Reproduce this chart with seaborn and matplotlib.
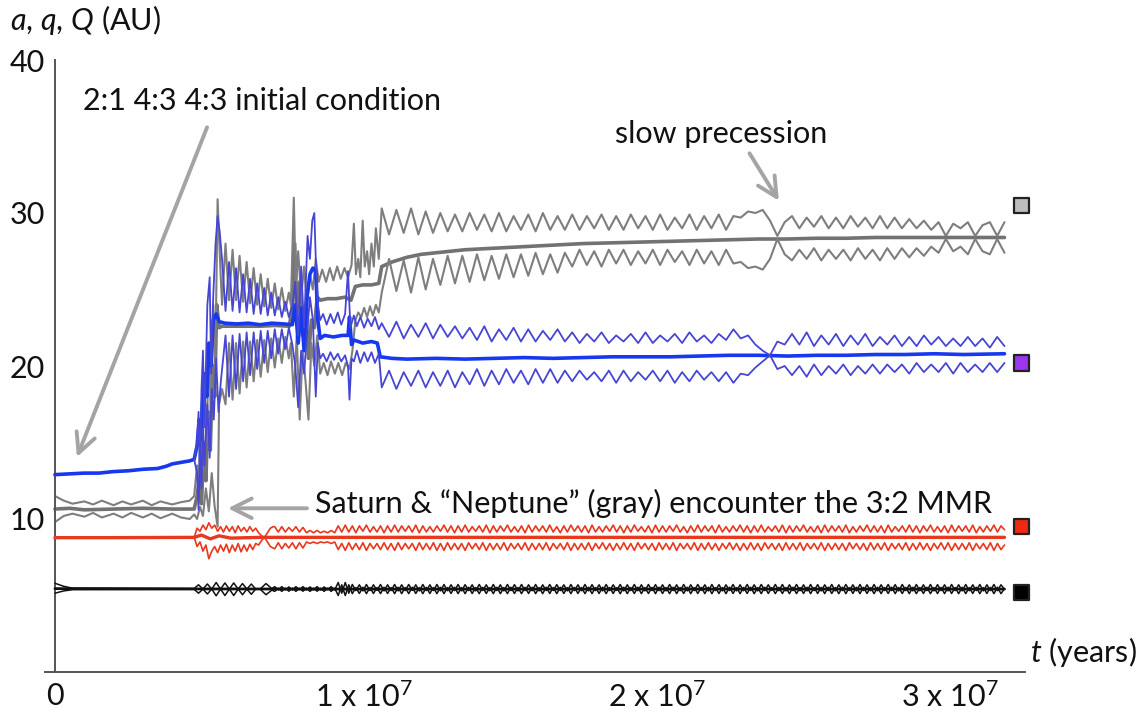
import numpy as np
import matplotlib
matplotlib.use("Agg")
import matplotlib.pyplot as plt
from matplotlib.ticker import MultipleLocator, FuncFormatter
from matplotlib.transforms import ScaledTranslation
import seaborn as sns

# ---------------- data: t in Myr, a/q/Q in AU ----------------
# Jupiter (black)
jup_a = [(0, 5.45), (4.75, 5.43), (10, 5.42), (20, 5.42), (32.4, 5.42)]
jup_Q_early = [(0, 5.8), (0.3, 5.6), (0.6, 5.48), (4.75, 5.46), (4.9, 5.7), (5.05, 5.42), (5.2, 5.75),
               (5.35, 5.42), (5.5, 5.85), (5.65, 5.42), (5.8, 5.82), (5.95, 5.42), (6.1, 5.82), (6.25, 5.42),
               (6.4, 5.78), (6.55, 5.42), (6.7, 5.75), (6.85, 5.42), (7.0, 5.42), (7.2, 5.78), (7.4, 5.45)]
jup_q_early = [(0, 5.15), (0.3, 5.3), (0.6, 5.38), (4.75, 5.4), (4.9, 5.15), (5.05, 5.42), (5.2, 5.1),
               (5.35, 5.42), (5.5, 4.98), (5.65, 5.42), (5.8, 5.0), (5.95, 5.42), (6.1, 5.0), (6.25, 5.42),
               (6.4, 5.05), (6.55, 5.42), (6.7, 5.08), (6.85, 5.42), (7.0, 5.42), (7.2, 5.05), (7.4, 5.35)]
# evenly sampled 7.5 .. 32.4 Myr
jup_Q_late = [
    5.58, 5.36, 5.58, 5.36, 5.56, 5.36, 5.58, 5.38, 5.58, 5.36, 5.56, 5.36, 5.58, 5.36, 5.56, 5.38,
    5.58, 5.36, 5.85, 5.15, 5.85, 5.15, 5.72, 5.32, 5.7, 5.3, 5.72, 5.32, 5.7, 5.33, 5.72, 5.3,
    5.7, 5.32, 5.72, 5.3, 5.7, 5.32, 5.72, 5.33, 5.7, 5.3, 5.72, 5.32, 5.7, 5.32, 5.72, 5.3,
    5.72, 5.31, 5.7, 5.32, 5.72, 5.3, 5.71, 5.32, 5.7, 5.3, 5.72, 5.33, 5.7, 5.31, 5.72, 5.32,
    5.7, 5.3, 5.72, 5.32, 5.71, 5.3, 5.72, 5.32, 5.7, 5.31, 5.72, 5.3, 5.7, 5.32, 5.72, 5.33,
    5.71, 5.32, 5.7, 5.3, 5.72, 5.32, 5.7, 5.31, 5.72, 5.3, 5.71, 5.32, 5.7, 5.3, 5.72, 5.32,
    5.7, 5.33, 5.72, 5.3, 5.7, 5.32, 5.72, 5.31, 5.7, 5.3, 5.72, 5.32, 5.71, 5.32, 5.7, 5.3,
    5.72, 5.32, 5.7, 5.31, 5.72, 5.3, 5.7, 5.32, 5.72, 5.33, 5.7, 5.3, 5.72, 5.32, 5.71, 5.3,
    5.7, 5.32, 5.72, 5.3, 5.7, 5.31, 5.72, 5.32, 5.7, 5.3, 5.72, 5.32, 5.7, 5.33, 5.72, 5.31,
    5.72, 5.3, 5.7, 5.32, 5.72, 5.31, 5.7, 5.3, 5.72, 5.32, 5.71, 5.3, 5.7, 5.32, 5.72, 5.3,
    5.7, 5.32, 5.72, 5.33, 5.7, 5.3, 5.72, 5.32, 5.7, 5.31, 5.72, 5.3, 5.7, 5.32, 5.72, 5.32,
    5.71, 5.3, 5.72, 5.32, 5.7, 5.3, 5.72, 5.31, 5.7, 5.32, 5.72, 5.3, 5.71, 5.32, 5.7, 5.3,
    5.72, 5.32, 5.7, 5.3, 5.72, 5.31, 5.7, 5.32, 5.72, 5.3, 5.7, 5.32, 5.72, 5.31, 5.7, 5.4]
jup_q_late = [
    5.27, 5.48, 5.27, 5.48, 5.28, 5.48, 5.27, 5.47, 5.28, 5.48, 5.27, 5.48, 5.28, 5.47, 5.27, 5.48,
    5.27, 5.48, 5.0, 5.7, 5.0, 5.7, 5.12, 5.52, 5.13, 5.54, 5.12, 5.52, 5.13, 5.52, 5.12, 5.54,
    5.13, 5.52, 5.12, 5.54, 5.12, 5.52, 5.12, 5.54, 5.13, 5.52, 5.12, 5.53, 5.13, 5.52, 5.12, 5.54,
    5.12, 5.52, 5.13, 5.54, 5.12, 5.52, 5.12, 5.54, 5.13, 5.52, 5.12, 5.53, 5.13, 5.52, 5.12, 5.54,
    5.12, 5.52, 5.12, 5.54, 5.13, 5.52, 5.12, 5.53, 5.13, 5.54, 5.12, 5.52, 5.12, 5.54, 5.13, 5.52,
    5.12, 5.54, 5.13, 5.52, 5.12, 5.53, 5.13, 5.52, 5.12, 5.54, 5.12, 5.52, 5.13, 5.54, 5.12, 5.52,
    5.13, 5.52, 5.12, 5.54, 5.12, 5.52, 5.13, 5.54, 5.12, 5.52, 5.13, 5.53, 5.12, 5.54, 5.13, 5.52,
    5.12, 5.54, 5.12, 5.52, 5.13, 5.54, 5.12, 5.52, 5.13, 5.53, 5.12, 5.54, 5.12, 5.52, 5.13, 5.52,
    5.12, 5.54, 5.13, 5.52, 5.12, 5.53, 5.13, 5.54, 5.12, 5.52, 5.12, 5.54, 5.13, 5.52, 5.12, 5.53,
    5.13, 5.52, 5.12, 5.54, 5.12, 5.52, 5.13, 5.54, 5.12, 5.52, 5.13, 5.53, 5.12, 5.54, 5.13, 5.52,
    5.12, 5.54, 5.12, 5.52, 5.13, 5.54, 5.12, 5.53, 5.13, 5.52, 5.12, 5.54, 5.12, 5.52, 5.13, 5.54,
    5.12, 5.52, 5.13, 5.53, 5.12, 5.54, 5.12, 5.52, 5.13, 5.54, 5.12, 5.52, 5.13, 5.53, 5.12, 5.54,
    5.13, 5.52, 5.12, 5.54, 5.12, 5.52, 5.13, 5.54, 5.12, 5.52, 5.13, 5.53, 5.12, 5.54, 5.12, 5.44]

# Saturn (red)
sat_a = [(0, 8.78), (2, 8.78), (4.75, 8.8), (5.0, 8.95), (5.3, 8.7), (5.6, 8.9), (6.0, 8.75),
         (7.0, 8.8), (10, 8.8), (20, 8.8), (32.4, 8.8)]
sat_Q_early = [(4.75, 8.8), (4.85, 9.4), (4.95, 9.2), (5.05, 9.6), (5.15, 9.3), (5.25, 9.75), (5.35, 9.4),
               (5.45, 9.6), (5.55, 9.2), (5.65, 9.5), (5.75, 9.15), (5.85, 9.55), (5.95, 9.2), (6.05, 9.5),
               (6.15, 9.1), (6.25, 9.55), (6.35, 9.2), (6.45, 9.45), (6.55, 9.15), (6.65, 9.5), (6.75, 9.2),
               (6.85, 9.4), (6.95, 9.1), (7.05, 8.9), (7.15, 8.8), (7.25, 9.1), (7.35, 9.4), (7.45, 9.5)]
sat_q_early = [(4.75, 8.8), (4.85, 8.2), (4.95, 8.5), (5.05, 7.9), (5.15, 8.3), (5.25, 7.4), (5.35, 7.9),
               (5.45, 8.2), (5.55, 7.8), (5.65, 8.3), (5.75, 7.9), (5.85, 8.35), (5.95, 7.8), (6.05, 8.3),
               (6.15, 7.9), (6.25, 8.4), (6.35, 7.85), (6.45, 8.3), (6.55, 7.9), (6.65, 8.35), (6.75, 8.0),
               (6.85, 8.4), (6.95, 8.3), (7.05, 8.6), (7.15, 8.8), (7.25, 8.5), (7.35, 8.2), (7.45, 8.1)]
sat_Q_late = [
    9.5, 9.15, 9.5, 9.15, 9.45, 9.2, 9.5, 9.15, 9.45, 9.1, 9.25, 9.1, 9.25, 9.1, 9.2, 9.1,
    9.25, 9.1, 9.55, 9.15, 9.6, 9.15, 9.55, 9.1, 9.55, 9.2, 9.6, 9.15, 9.5, 9.15, 9.55, 9.1,
    9.55, 9.15, 9.6, 9.15, 9.55, 9.2, 9.55, 9.15, 9.6, 9.1, 9.55, 9.15, 9.5, 9.15, 9.55, 9.2,
    9.6, 9.15, 9.55, 9.1, 9.55, 9.15, 9.6, 9.15, 9.5, 9.2, 9.55, 9.15, 9.6, 9.1, 9.55, 9.15,
    9.55, 9.2, 9.6, 9.15, 9.5, 9.15, 9.55, 9.1, 9.6, 9.15, 9.55, 9.2, 9.55, 9.15, 9.6, 9.15,
    9.5, 9.1, 9.55, 9.15, 9.6, 9.2, 9.55, 9.15, 9.55, 9.1, 9.6, 9.15, 9.5, 9.15, 9.55, 9.2,
    9.6, 9.15, 9.55, 9.1, 9.55, 9.15, 9.6, 9.2, 9.5, 9.15, 9.55, 9.1, 9.6, 9.15, 9.55, 9.15,
    9.55, 9.2, 9.6, 9.15, 9.5, 9.1, 9.55, 9.15, 9.6, 9.15, 9.55, 9.2, 9.55, 9.1, 9.6, 9.15,
    9.5, 9.15, 9.55, 9.2, 9.6, 9.15, 9.55, 9.1, 9.55, 9.15, 9.6, 9.15, 9.5, 9.2, 9.55, 9.15,
    9.6, 9.1, 9.55, 9.15, 9.55, 9.2, 9.6, 9.15, 9.5, 9.15, 9.55, 9.1, 9.6, 9.15, 9.55, 9.2,
    9.55, 9.15, 9.6, 9.1, 9.5, 9.15, 9.55, 9.2, 9.6, 9.15, 9.55, 9.15, 9.55, 9.1, 9.6, 9.15,
    9.5, 9.2, 9.55, 9.15, 9.6, 9.15, 9.55, 9.1, 9.55, 9.2, 9.6, 9.15, 9.5, 9.15, 9.55, 9.1,
    9.6, 9.15, 9.55, 9.2, 9.55, 9.15, 9.6, 9.1, 9.5, 9.15, 9.55, 9.2, 9.6, 9.15, 9.55, 9.3]
sat_q_late = [
    8.05, 8.45, 8.05, 8.4, 8.1, 8.45, 8.05, 8.45, 8.1, 8.5, 8.4, 8.5, 8.4, 8.5, 8.45, 8.5,
    8.4, 8.5, 8.0, 8.4, 7.95, 8.45, 8.0, 8.4, 8.0, 8.45, 7.95, 8.4, 8.05, 8.4, 8.0, 8.45,
    8.0, 8.4, 7.95, 8.45, 8.0, 8.4, 8.05, 8.4, 7.95, 8.45, 8.0, 8.4, 8.0, 8.45, 7.95, 8.4,
    7.95, 8.45, 8.0, 8.4, 8.0, 8.4, 7.95, 8.45, 8.05, 8.4, 8.0, 8.45, 7.95, 8.4, 8.0, 8.4,
    8.0, 8.45, 7.95, 8.4, 8.05, 8.4, 8.0, 8.45, 7.95, 8.4, 8.0, 8.4, 8.0, 8.45, 7.95, 8.4,
    8.05, 8.4, 8.0, 8.45, 7.95, 8.4, 8.0, 8.4, 8.0, 8.45, 7.95, 8.4, 8.05, 8.45, 8.0, 8.4,
    7.95, 8.4, 8.0, 8.45, 8.0, 8.4, 7.95, 8.45, 8.05, 8.4, 8.0, 8.4, 7.95, 8.45, 8.0, 8.4,
    8.0, 8.45, 7.95, 8.4, 8.05, 8.4, 8.0, 8.45, 7.95, 8.4, 8.0, 8.45, 8.0, 8.4, 7.95, 8.4,
    8.05, 8.45, 8.0, 8.4, 7.95, 8.4, 8.0, 8.45, 8.0, 8.4, 7.95, 8.45, 8.05, 8.4, 8.0, 8.4,
    7.95, 8.45, 8.0, 8.4, 8.0, 8.45, 7.95, 8.4, 8.05, 8.4, 8.0, 8.45, 7.95, 8.4, 8.0, 8.4,
    8.0, 8.4, 7.95, 8.45, 8.05, 8.4, 8.0, 8.4, 7.95, 8.45, 8.0, 8.4, 8.0, 8.45, 7.95, 8.4,
    8.05, 8.4, 8.0, 8.45, 7.95, 8.4, 8.0, 8.45, 8.0, 8.4, 7.95, 8.4, 8.05, 8.45, 8.0, 8.45,
    7.95, 8.4, 8.0, 8.4, 8.0, 8.45, 7.95, 8.4, 8.05, 8.4, 8.0, 8.45, 7.95, 8.4, 8.0, 8.3]

# Ice giant 1 (blue)
ig1_a = [(0, 12.9), (0.5, 12.95), (1.0, 13.0), (1.5, 13.0), (2.0, 13.1), (2.5, 13.15), (3.0, 13.25),
         (3.5, 13.3), (3.8, 13.45), (4.0, 13.6), (4.3, 13.7), (4.6, 13.8), (4.75, 13.9), (4.85, 14.8),
         (4.92, 16.5), (4.97, 15.2), (5.03, 17.5), (5.1, 19.5), (5.18, 18.0), (5.25, 21.5), (5.32, 20.0),
         (5.4, 23.0), (5.5, 23.4), (5.6, 22.9), (5.8, 22.8), (6.2, 22.75), (6.6, 22.8), (7.0, 22.7),
         (7.4, 22.8), (7.8, 22.75), (8.1, 22.7), (8.2, 24.0), (8.3, 21.5), (8.4, 23.8), (8.5, 21.0),
         (8.6, 24.5), (8.7, 26.0), (8.8, 26.4), (8.9, 26.2), (8.97, 23.0), (9.05, 21.8), (9.2, 22.0),
         (9.5, 21.9), (9.8, 22.0), (10.0, 22.0), (10.05, 23.2), (10.12, 21.4), (10.2, 21.7), (10.5, 21.5),
         (10.8, 21.6), (11.0, 21.5), (11.1, 20.6), (11.5, 20.5), (12, 20.45), (13, 20.5), (14, 20.45),
         (15, 20.5), (16, 20.55), (17, 20.5), (18, 20.55), (19, 20.6), (20, 20.6), (21, 20.6),
         (22, 20.65), (23, 20.7), (24, 20.7), (25, 20.65), (26, 20.7), (27, 20.7), (28, 20.75),
         (29, 20.75), (30, 20.8), (31, 20.75), (32.4, 20.8)]
ig1_Q_early = [(4.75, 13.9), (4.85, 15.0), (4.9, 17.0), (4.95, 12.5), (5.0, 18.5), (5.05, 21.0), (5.1, 16.0),
               (5.2, 24.0), (5.28, 25.8), (5.33, 19.5), (5.4, 24.5), (5.48, 28.0), (5.55, 29.8), (5.62, 28.8),
               (5.7, 27.0), (5.82, 23.6), (5.94, 26.8), (6.06, 23.6), (6.18, 26.4), (6.30, 23.5), (6.42, 26.0),
               (6.54, 23.5), (6.66, 25.7), (6.78, 23.4), (6.90, 25.4), (7.02, 23.4), (7.14, 25.1), (7.26, 23.3),
               (7.38, 24.8), (7.50, 23.3), (7.62, 24.5), (7.74, 23.2), (7.86, 24.2), (7.98, 23.2), (8.1, 23.9),
               (8.2, 25.5), (8.3, 22.0), (8.4, 26.5), (8.5, 22.5), (8.62, 28.5), (8.7, 27.0), (8.78, 29.5),
               (8.85, 30.0), (8.9, 27.0), (8.97, 24.0), (9.05, 23.0), (9.15, 23.4), (9.27, 22.7), (9.4, 23.4),
               (9.52, 22.8), (9.65, 23.5), (9.77, 22.7), (9.9, 23.4), (10.0, 26.2), (10.08, 22.5), (10.2, 23.3),
               (10.3, 22.6), (10.42, 23.2), (10.55, 22.5), (10.67, 23.1), (10.8, 22.6), (10.92, 23.2),
               (11.05, 22.4)]
ig1_q_early = [(4.75, 13.9), (4.85, 13.0), (4.9, 10.6), (4.95, 14.5), (5.0, 12.0), (5.05, 16.0), (5.1, 13.5),
               (5.2, 17.5), (5.28, 14.0), (5.35, 18.5), (5.42, 16.5), (5.5, 20.5), (5.58, 17.0), (5.66, 19.0),
               (5.82, 22.0), (5.94, 18.0), (6.06, 22.0), (6.18, 18.5), (6.30, 22.1), (6.42, 19.0), (6.54, 22.2),
               (6.66, 19.4), (6.78, 22.2), (6.90, 19.8), (7.02, 22.3), (7.14, 20.2), (7.26, 22.3), (7.38, 20.5),
               (7.50, 22.4), (7.62, 20.8), (7.74, 22.4), (7.86, 21.1), (7.98, 22.5), (8.1, 21.4), (8.2, 20.0),
               (8.3, 17.3), (8.4, 21.0), (8.5, 19.5), (8.6, 22.0), (8.7, 24.5), (8.8, 23.0), (8.9, 18.0),
               (8.97, 21.5), (9.05, 20.5), (9.15, 20.8), (9.27, 20.3), (9.4, 20.9), (9.52, 20.4), (9.65, 20.8),
               (9.77, 20.3), (9.9, 20.7), (10.0, 20.0), (10.05, 17.8), (10.12, 20.5), (10.2, 20.3), (10.3, 21.0),
               (10.42, 20.2), (10.55, 20.9), (10.67, 20.3), (10.8, 20.9), (10.92, 20.2), (11.05, 20.8)]
# evenly sampled 11.15 .. 32.4 Myr
ig1_Q_late = [
    22.8, 21.9, 22.9, 21.8, 22.7, 21.9, 22.8, 21.8, 22.7, 21.9, 22.6, 21.8,
    22.5, 21.7, 22.6, 21.6, 22.4, 21.7, 22.5, 21.6, 22.4, 21.6, 22.3, 21.7, 22.4, 21.6,
    22.2, 21.5, 22.1, 21.6, 22.2, 21.5, 22.0, 21.6, 22.1, 21.5, 22.2, 21.5, 22.0, 21.6, 22.1, 21.5,
    22.2, 21.6, 22.0, 21.5, 22.1,
    21.7, 22.4, 21.8, 22.0, 21.4, 21.0, 20.7, 21.6, 21.4,
    22.1, 21.4, 22.2, 21.3, 22.0, 21.4, 22.1, 21.3, 22.0, 21.4, 22.1, 21.3, 21.9, 21.4, 22.0,
    21.3, 21.9, 21.3, 22.0, 21.4, 21.9, 21.3, 21.8, 21.3, 21.9, 21.3, 21.8, 21.2, 21.9, 21.3]
ig1_q_late = [
    18.6, 19.7, 18.5, 19.6, 18.7, 19.7, 18.6, 19.6, 18.7, 19.7, 18.6, 19.6,
    18.8, 19.8, 18.7, 19.7, 18.8, 19.8, 18.9, 19.7, 18.8, 19.8, 18.9, 19.8, 18.9, 19.7,
    19.0, 19.7, 19.1, 19.6, 19.0, 19.7, 18.9, 19.7, 19.0, 19.6, 19.1, 19.7, 19.0, 19.7, 18.9, 19.6,
    19.0, 19.7, 19.1, 19.6, 19.0,
    19.6, 18.9, 19.5, 19.4, 19.9, 20.3, 20.7, 19.8, 20.0,
    19.4, 20.0, 19.3, 20.1, 19.4, 20.0, 19.5, 20.1, 19.4, 20.0, 19.5, 20.1, 19.5, 20.1, 19.6,
    20.1, 19.5, 20.2, 19.6, 20.1, 19.6, 20.2, 19.5, 20.2, 19.6, 20.1, 19.6, 20.2, 19.6, 20.2]

# Ice giant 2 ("Neptune", gray)
ig2_a = [(0, 10.65), (0.5, 10.7), (1, 10.6), (2, 10.65), (3, 10.7), (4, 10.65), (4.75, 10.65), (4.85, 11.5),
         (4.92, 12.5), (5.0, 11.0), (5.08, 15.0), (5.15, 12.5), (5.22, 17.0), (5.3, 14.5), (5.38, 20.0),
         (5.45, 18.0), (5.52, 24.0), (5.6, 22.5), (5.7, 22.6), (6.0, 22.6), (6.5, 22.6), (7.0, 22.6),
         (7.5, 22.65), (8.0, 22.6), (8.1, 24.0), (8.18, 28.0), (8.25, 23.5), (8.35, 25.5), (8.45, 22.0),
         (8.55, 24.0), (8.65, 20.5), (8.75, 23.0), (8.85, 22.5), (8.95, 24.5), (9.05, 24.3), (9.3, 24.4),
         (9.6, 24.4), (9.9, 24.5), (10.1, 24.3), (10.25, 25.2), (10.5, 25.3), (10.8, 25.3), (11.05, 25.4),
         (11.15, 26.5), (11.5, 26.8), (12, 27.1), (12.5, 27.3), (13, 27.4), (14, 27.6), (15, 27.7),
         (16, 27.8), (17, 27.9), (18, 28.0), (19, 28.05), (20, 28.1), (21, 28.15), (22, 28.2), (23, 28.25),
         (24, 28.3), (25, 28.3), (26, 28.35), (27, 28.35), (28, 28.4), (29, 28.4), (30, 28.4), (31, 28.4),
         (32.4, 28.4)]
ig2_Q_early = [(0, 11.5), (0.3, 11.2), (0.6, 11.0), (1.0, 11.15), (1.3, 10.95), (1.6, 11.2), (2.0, 10.9),
               (2.3, 11.15), (2.6, 10.95), (3.0, 11.2), (3.3, 10.9), (3.6, 11.15), (4.0, 10.95), (4.3, 11.1),
               (4.6, 11.2), (4.75, 11.5), (4.85, 13.5), (4.9, 11.5), (4.97, 16.5), (5.03, 13.0), (5.1, 19.0),
               (5.17, 15.0), (5.25, 21.0), (5.32, 17.0), (5.4, 24.0), (5.47, 20.0), (5.55, 30.9), (5.62, 27.5),
               (5.7, 24.0), (5.82, 28.0), (5.94, 24.3), (6.06, 27.6), (6.18, 24.3), (6.30, 27.2), (6.42, 24.2),
               (6.54, 26.8), (6.66, 24.1), (6.78, 26.4), (6.90, 24.0), (7.02, 26.0), (7.14, 23.9), (7.26, 25.7),
               (7.38, 23.8), (7.50, 25.4), (7.62, 23.7), (7.74, 25.1), (7.86, 23.6), (7.98, 24.8), (8.05, 24.0),
               (8.15, 31.0), (8.22, 25.0), (8.3, 27.5), (8.4, 24.5), (8.5, 26.5), (8.6, 24.0), (8.7, 26.0),
               (8.8, 25.0), (8.9, 27.0), (9.0, 25.5), (9.12, 26.3), (9.25, 25.5), (9.38, 26.4), (9.5, 25.6),
               (9.63, 26.5), (9.75, 25.7), (9.88, 26.4), (10.0, 25.8), (10.12, 26.6), (10.2, 29.3), (10.27, 26.0),
               (10.35, 27.0), (10.42, 25.8), (10.5, 29.5), (10.57, 26.5), (10.65, 27.5), (10.72, 26.0),
               (10.8, 28.0), (10.88, 26.5), (10.95, 29.0), (11.05, 27.0)]
ig2_q_early = [(0, 9.8), (0.3, 10.2), (0.6, 10.35), (1.0, 10.15), (1.3, 10.4), (1.6, 10.1), (2.0, 10.35),
               (2.3, 10.1), (2.6, 10.4), (3.0, 10.1), (3.3, 10.35), (3.6, 10.05), (4.0, 10.35), (4.3, 10.1),
               (4.6, 10.0), (4.75, 10.3), (4.85, 10.0), (4.95, 10.8), (5.05, 10.2), (5.15, 12.0), (5.25, 10.5),
               (5.35, 13.0), (5.45, 10.8), (5.55, 9.5), (5.6, 17.5), (5.7, 18.5), (5.82, 17.5), (5.94, 21.5),
               (6.06, 17.8), (6.18, 21.5), (6.30, 18.2), (6.42, 21.6), (6.54, 18.6), (6.66, 21.6), (6.78, 19.0),
               (6.90, 21.7), (7.02, 19.3), (7.14, 21.7), (7.26, 19.6), (7.38, 21.8), (7.50, 19.9), (7.62, 21.8),
               (7.74, 20.2), (7.86, 21.9), (7.98, 20.5), (8.05, 21.5), (8.15, 18.0), (8.25, 22.0), (8.35, 16.5),
               (8.45, 21.0), (8.55, 19.0), (8.65, 16.5), (8.75, 21.5), (8.85, 20.0), (8.95, 22.0), (9.05, 19.5),
               (9.17, 20.2), (9.3, 19.4), (9.42, 20.3), (9.55, 19.5), (9.67, 20.2), (9.8, 19.4), (9.92, 20.2),
               (10.05, 19.8), (10.15, 21.0), (10.25, 23.0), (10.35, 23.5), (10.45, 23.2), (10.55, 23.8),
               (10.65, 23.2), (10.75, 23.9), (10.85, 23.3), (10.95, 24.0), (11.05, 23.5)]
ig2_Q_late = [
    30.3, 28.6, 30.2, 28.7, 30.3, 28.6, 30.1, 28.7,
    30.0, 28.8, 29.9, 28.8, 30.0, 28.9, 29.9, 28.8, 30.0, 28.8, 29.8, 28.9, 29.9, 28.8, 30.0, 28.9, 29.8, 28.9,
    29.9, 28.9, 29.8, 29.0, 29.9, 28.9, 29.8, 28.9, 29.9, 29.0, 29.8, 28.9, 29.9, 28.9, 29.7, 29.0,
    29.9, 28.9, 29.8, 29.0, 29.9, 28.9, 29.8,
    29.7, 30.1, 30.0, 30.2, 29.5, 28.5, 29.4,
    29.8, 29.0, 29.7, 29.1, 29.8, 29.0, 29.7, 29.0, 29.8, 29.1, 29.7, 29.0, 29.8, 29.0, 29.7,
    29.0, 29.6, 29.0, 29.5, 28.9, 29.4, 28.5, 29.3, 29.0, 29.4, 28.5, 29.2, 29.4, 28.5, 29.4]
ig2_q_late = [
    24.8, 27.0, 24.9, 26.9, 24.8, 27.1, 25.0, 27.0,
    25.3, 27.2, 25.4, 27.2, 25.5, 27.3, 25.6, 27.2, 25.7, 27.3, 25.8, 27.3, 25.9, 27.4, 26.0, 27.3, 26.1, 27.4,
    26.5, 27.6, 26.6, 27.5, 26.5, 27.6, 26.7, 27.6, 26.6, 27.5, 26.7, 27.6, 26.6, 27.6, 26.8, 27.5,
    26.6, 27.6, 26.7, 27.5, 26.6, 27.6, 26.7,
    26.8, 26.4, 26.5, 26.3, 27.0, 28.3, 27.3,
    26.9, 27.6, 27.0, 27.7, 26.9, 27.6, 27.0, 27.6, 26.9, 27.7, 27.0, 27.6, 26.9, 27.7, 27.0,
    27.7, 27.1, 27.7, 27.2, 27.8, 27.4, 28.3, 27.5, 27.8, 27.3, 28.3, 27.5, 27.3, 28.3, 27.4]

# end-of-run markers
marker_vals = [30.5, 20.2, 9.5, 5.2]
marker_names = ["ig2", "ig1", "saturn", "jupiter"]
marker_t = 32.97

x_tick_labels = {0: "0", 10: "1 x 10$^{7}$", 20: "2 x 10$^{7}$", 30: "3 x 10$^{7}$"}
y_tick_labels = {10: "10", 20: "20", 30: "30", 40: "40"}

# ---------------- styling ----------------
sns.set_theme(style="white")
plt.rcParams["font.family"] = ["Lato", "DejaVu Sans"]
plt.rcParams["mathtext.fontset"] = "custom"
plt.rcParams["mathtext.rm"] = "Lato"
plt.rcParams["mathtext.it"] = "Lato:italic"
plt.rcParams["mathtext.bf"] = "Lato:bold"

GRAY = "#7e7e7e"
GRAY_A = "#727272"
BLUE_A = "#1638ee"
BLUE_QQ = "#4646d4"
RED = "#e8381d"
BLACK = "#111111"
ARROW = "#a4a4a4"
AXIS = "#555555"
FS = 22

fig = plt.figure(figsize=(11.47, 7.15), dpi=100)
ax = fig.add_axes([44.7 / 1147, 1 - 672 / 715, (1025 - 44.7) / 1147, (672 - 60) / 715])
ax.set_xlim(-0.35e6, 33.1e6)
ax.set_ylim(0, 40)


def unzip(pairs):
    t, v = zip(*pairs)
    return np.asarray(t, float), np.asarray(v, float)


def draw(t, v, color, lw, z):
    sns.lineplot(x=np.asarray(t) * 1e6, y=np.asarray(v), ax=ax, color=color, linewidth=lw,
                 sort=False, estimator=None, zorder=z, legend=False)


def draw_split(early, late, t0, t1, color, lw, z):
    te, ve = unzip(early)
    tl = np.linspace(t0, t1, len(late))
    draw(np.concatenate([te, tl]), np.concatenate([ve, late]), color, lw, z)


# gray ice giant
draw(*unzip(ig2_a), GRAY_A, 2.6, 2)
draw_split(ig2_Q_early, ig2_Q_late, 11.15, 32.4, GRAY, 1.5, 2)
draw_split(ig2_q_early, ig2_q_late, 11.15, 32.4, GRAY, 1.5, 2)

# blue ice giant
draw(*unzip(ig1_a), BLUE_A, 2.6, 3)
draw_split(ig1_Q_early, ig1_Q_late, 11.15, 32.4, BLUE_QQ, 1.3, 3)
draw_split(ig1_q_early, ig1_q_late, 11.15, 32.4, BLUE_QQ, 1.3, 3)

# Saturn
draw(*unzip(sat_a), RED, 2.4, 4)
draw_split(sat_Q_early, sat_Q_late, 7.5, 32.4, RED, 1.2, 4)
draw_split(sat_q_early, sat_q_late, 7.5, 32.4, RED, 1.2, 4)

# Jupiter
draw(*unzip(jup_a), BLACK, 2.0, 5)
draw_split(jup_Q_early, jup_Q_late, 7.5, 32.4, BLACK, 1.1, 5)
draw_split(jup_q_early, jup_q_late, 7.5, 32.4, BLACK, 1.1, 5)

# markers
sns.scatterplot(x=[marker_t * 1e6] * 4, y=marker_vals, hue=marker_names,
                palette={"ig2": "#bdbdbd", "ig1": "#9b35f0", "saturn": "#ee2a10", "jupiter": "#000000"},
                marker="s", s=120, edgecolor="#222222", linewidth=1.6, legend=False, ax=ax,
                clip_on=False, zorder=6)

# axes
for side in ("top", "right"):
    ax.spines[side].set_visible(False)
ax.spines["left"].set_position(("data", 0))
for side in ("left", "bottom"):
    ax.spines[side].set_color(AXIS)
    ax.spines[side].set_linewidth(1.4)

ax.xaxis.set_major_locator(MultipleLocator(5e6))
ax.xaxis.set_minor_locator(MultipleLocator(1e6))
ax.yaxis.set_major_locator(MultipleLocator(10))
ax.yaxis.set_minor_locator(MultipleLocator(2))
ax.xaxis.set_major_formatter(FuncFormatter(lambda v, p: x_tick_labels.get(int(round(v / 1e6)), "")))
ax.yaxis.set_major_formatter(FuncFormatter(lambda v, p: y_tick_labels.get(int(round(v)), "")))
ax.tick_params(which="major", direction="in", length=9, width=1.2, color=AXIS, labelsize=FS,
               labelcolor="#111111", pad=7)
ax.tick_params(which="minor", direction="in", length=5, width=1.0, color=AXIS)
ax.set_xlabel("")
ax.set_ylabel("")

fig.text(10 / 1147, 1 - 20 / 715, "$a$, $q$, $Q$ (AU)", fontsize=FS, va="center", ha="left", color="#111111")
fig.text(1030 / 1147, 1 - 652 / 715, "$t$ (years)", fontsize=FS, va="center", ha="left", color="#111111")

# annotations
aprops = dict(arrowstyle="->,head_length=0.7,head_width=0.35", color=ARROW, lw=2.8,
              shrinkA=0, shrinkB=0, mutation_scale=20)
ax.text(0.96e6, 36.7, "2:1 4:3 4:3 initial condition", fontsize=FS, va="baseline", color="#111111")
ax.annotate("", xy=(0.75e6, 14.05), xytext=(5.19e6, 35.6), arrowprops=aprops)
ax.text(19.1e6, 34.6, "slow precession", fontsize=FS, va="baseline", color="#111111")
ax.annotate("", xy=(24.7e6, 30.8), xytext=(23.7e6, 33.9), arrowprops=aprops)
ax.text(8.87e6, 10.4, "Saturn & \u201cNeptune\u201d (gray) encounter the 3:2 MMR", fontsize=FS,
        va="baseline", color="#111111")
ax.annotate("", xy=(5.9e6, 10.7), xytext=(8.6e6, 10.7), arrowprops=aprops)

# the "n x 10^7" labels sit a little right of their ticks in the original
fig.canvas.draw()
shift = ScaledTranslation(16 / 100, 0, fig.dpi_scale_trans)
for tick in ax.xaxis.get_major_ticks():
    if tick.label1.get_text() not in ("", "0"):
        tick.label1.set_transform(tick.label1.get_transform() + shift)

fig.savefig("out.png", dpi=100, facecolor="white")
